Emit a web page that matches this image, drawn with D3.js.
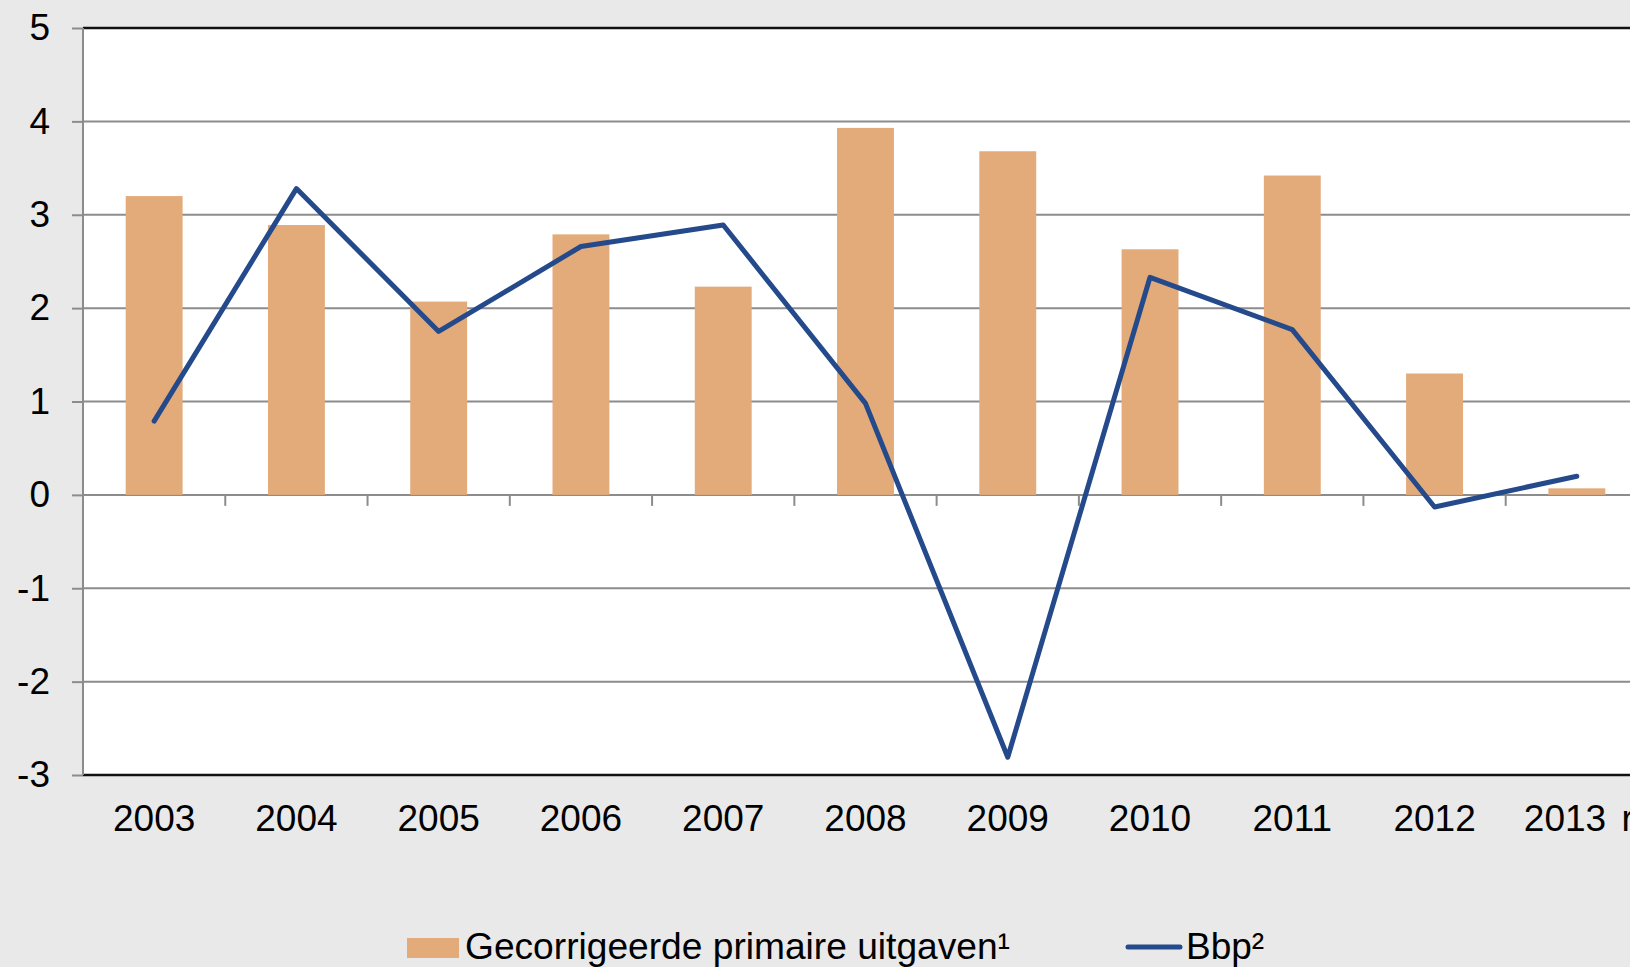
<html>
<head>
<script src="https://d3js.org/d3.v7.min.js"></script>
<style>
body { margin: 0; background: #e9e9e9; }
svg { display: block; font-family: 'Liberation Sans', Arial, sans-serif; }
</style>
</head>
<body>
<svg width="1630" height="967"></svg>
<script>
// categories and series
var years = ["2003", "2004", "2005", "2006", "2007", "2008", "2009", "2010", "2011", "2012", "2013 raming"];
var uitgaven = [3.20, 2.89, 2.07, 2.79, 2.23, 3.93, 3.68, 2.63, 3.42, 1.30, 0.07];
var bbp = [0.79, 3.28, 1.75, 2.66, 2.89, 0.98, -2.81, 2.33, 1.77, -0.13, 0.20];
var yTicks = [-3, -2, -1, 0, 1, 2, 3, 4, 5];
var legendLabels = ["Gecorrigeerde primaire uitgaven\u00b9", "Bbp\u00b2"];

var barColor = "#e3ab79";
var lineColor = "#254a8b";
var gridColor = "#8c8c8c";

var svg = d3.select("svg");

// note: "top" is taken by window.top, so use other names
var plotLeft = 83, plotTop = 28, plotBottom = 775;
var step = 142.27;

var x = d3.scaleBand().domain(years).range([plotLeft, plotLeft + years.length * step]).paddingInner(0).paddingOuter(0);
var y = d3.scaleLinear().domain([-3, 5]).range([plotBottom, plotTop]);

// plot area
svg.append("rect").attr("x", plotLeft).attr("y", plotTop)
  .attr("width", 1630 - plotLeft).attr("height", plotBottom - plotTop).attr("fill", "#fff");

// gridlines
svg.append("g").selectAll("line").data(yTicks.filter(function (d) { return d > -3 && d < 5; }))
  .enter().append("line")
  .attr("x1", plotLeft).attr("x2", 1630)
  .attr("y1", function (d) { return y(d); }).attr("y2", function (d) { return y(d); })
  .attr("stroke", gridColor).attr("stroke-width", 2);

// bars
var barW = x.bandwidth() * 0.4;
svg.append("g").selectAll("rect").data(uitgaven).enter().append("rect")
  .attr("x", function (d, i) { return x(years[i]) + (x.bandwidth() - barW) / 2; })
  .attr("y", function (d) { return y(Math.max(0, d)); })
  .attr("width", barW)
  .attr("height", function (d) { return Math.abs(y(d) - y(0)); })
  .attr("fill", barColor);

// category ticks on the zero line
svg.append("g").selectAll("line").data(years.slice(1)).enter().append("line")
  .attr("x1", function (d) { return x(d); }).attr("x2", function (d) { return x(d); })
  .attr("y1", y(0)).attr("y2", y(0) + 11)
  .attr("stroke", gridColor).attr("stroke-width", 2);

// top and bottom border
[plotTop, plotBottom].forEach(function (yy) {
  svg.append("line").attr("x1", plotLeft).attr("x2", 1630)
    .attr("y1", yy).attr("y2", yy).attr("stroke", "#111").attr("stroke-width", 2.5);
});

// y axis
var yAxis = svg.append("g").attr("transform", "translate(" + plotLeft + ",0)")
  .call(d3.axisLeft(y).tickValues(yTicks).tickSize(11).tickPadding(22).tickFormat(d3.format("d")));
yAxis.select(".domain").remove();
yAxis.selectAll(".tick line").attr("stroke", gridColor).attr("stroke-width", 2);
yAxis.selectAll(".tick text").attr("font-size", 37).attr("fill", "#000")
  .attr("font-family", "'Liberation Sans', Arial, sans-serif")
  .text(function (d) { return d < 0 ? "-" + Math.abs(d) : d; });
svg.append("line").attr("x1", plotLeft).attr("x2", plotLeft).attr("y1", plotTop).attr("y2", plotBottom)
  .attr("stroke", gridColor).attr("stroke-width", 2);

// x axis labels
var xAxis = svg.append("g").attr("transform", "translate(0," + plotBottom + ")")
  .call(d3.axisBottom(x).tickSize(0).tickPadding(30));
xAxis.select(".domain").remove();
xAxis.selectAll(".tick text").attr("font-size", 37).attr("fill", "#000")
  .attr("font-family", "'Liberation Sans', Arial, sans-serif")
  .attr("text-anchor", function (d, i) { return i === years.length - 1 ? "start" : "middle"; })
  .attr("x", function (d, i) { return i === years.length - 1 ? -53 : 0; })
  .attr("word-spacing", function (d, i) { return i === years.length - 1 ? 5 : null; });

// Bbp line
var line = d3.line()
  .x(function (d, i) { return x(years[i]) + x.bandwidth() / 2; })
  .y(function (d) { return y(d); });
svg.append("path").datum(bbp).attr("d", line)
  .attr("fill", "none").attr("stroke", lineColor).attr("stroke-width", 5)
  .attr("stroke-linejoin", "round").attr("stroke-linecap", "round");

// legend
var lg = svg.append("g").attr("font-family", "'Liberation Sans', Arial, sans-serif").attr("font-size", 37);
lg.append("rect").attr("x", 407).attr("y", 938).attr("width", 52).attr("height", 20).attr("fill", barColor);
lg.append("text").attr("x", 465).attr("y", 959).text(legendLabels[0])
  .attr("textLength", 545).attr("lengthAdjust", "spacingAndGlyphs");
lg.append("line").attr("x1", 1128).attr("x2", 1180).attr("y1", 947).attr("y2", 947)
  .attr("stroke", lineColor).attr("stroke-width", 5).attr("stroke-linecap", "round");
lg.append("text").attr("x", 1186).attr("y", 959).text(legendLabels[1]);
</script>
</body>
</html>
